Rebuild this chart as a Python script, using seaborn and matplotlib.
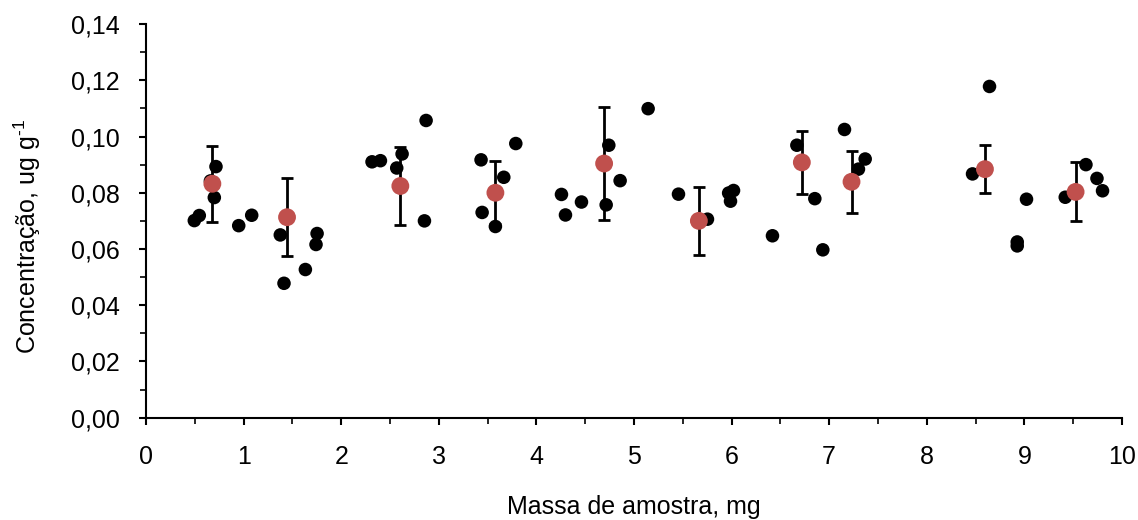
import matplotlib
matplotlib.use("Agg")
import matplotlib.pyplot as plt
from matplotlib.ticker import FuncFormatter, MultipleLocator
import seaborn as sns
import pandas as pd

# individual samples
sample_mass = [0.495, 0.546, 0.66, 0.700, 0.717, 0.950, 1.083, 1.376, 1.414, 1.633,
               1.742, 1.753, 2.316, 2.402, 2.569, 2.624, 2.853, 2.870, 3.433, 3.444,
               3.580, 3.666, 3.789, 4.257, 4.298, 4.462, 4.715, 4.742, 4.858, 5.145,
               5.456, 5.753, 5.970, 5.989, 6.020, 6.419, 6.669, 6.853, 6.935, 7.157,
               7.300, 7.369, 8.469, 8.643, 8.927, 8.927, 9.022, 9.419, 9.631, 9.744,
               9.801]
sample_conc = [0.0701, 0.0719, 0.0842, 0.0783, 0.0893, 0.0683, 0.0720, 0.0650, 0.0478, 0.0527,
               0.0616, 0.0655, 0.0910, 0.0914, 0.0888, 0.0938, 0.0700, 0.1057, 0.0917, 0.0730,
               0.0680, 0.0855, 0.0975, 0.0794, 0.0721, 0.0767, 0.0757, 0.0969, 0.0843, 0.1099,
               0.0795, 0.0706, 0.0799, 0.0770, 0.0808, 0.0647, 0.0969, 0.0779, 0.0597, 0.1025,
               0.0884, 0.0920, 0.0867, 0.1178, 0.0625, 0.0611, 0.0777, 0.0784, 0.0900, 0.0851,
               0.0807]

# group means with standard deviation
mean_mass = [0.680, 1.445, 2.606, 3.580, 4.694, 5.665, 6.720, 7.229, 8.596, 9.525]
mean_conc = [0.0832, 0.0713, 0.0824, 0.0800, 0.0904, 0.0700, 0.0908, 0.0839, 0.0884, 0.0803]
mean_sd = [0.0135, 0.0138, 0.0138, 0.0112, 0.0200, 0.0122, 0.0112, 0.0110, 0.0085, 0.0105]

x_ticks = list(range(0, 11))
y_ticks = [0.00, 0.02, 0.04, 0.06, 0.08, 0.10, 0.12, 0.14]

sns.set_theme(style="white")
plt.rcParams["font.family"] = ["Liberation Sans", "DejaVu Sans"]
plt.rcParams["mathtext.fontset"] = "custom"
plt.rcParams["mathtext.rm"] = "Liberation Sans"
plt.rcParams["mathtext.it"] = "Liberation Sans"

samples = pd.DataFrame({"mass": sample_mass, "conc": sample_conc})
means = pd.DataFrame({"mass": mean_mass, "conc": mean_conc, "sd": mean_sd})

FS = 18

fig = plt.figure(figsize=(11.38, 5.20), dpi=100)
ax = fig.add_axes([0.1283, 0.1967, 0.8576, 0.7571])

ax.errorbar(means["mass"], means["conc"], yerr=means["sd"], fmt="none",
            ecolor="black", elinewidth=2, capsize=4.5, capthick=2, zorder=2)
sns.scatterplot(data=samples, x="mass", y="conc", ax=ax, color="black",
                s=95, edgecolor="none", zorder=3)
sns.scatterplot(data=means, x="mass", y="conc", ax=ax, color="#C0504D",
                s=165, edgecolor="none", zorder=4)

ax.set_xlim(0, 10)
ax.set_ylim(0, 0.14)
ax.set_xticks(x_ticks)
ax.set_yticks(y_ticks)
ax.xaxis.set_minor_locator(MultipleLocator(0.5))
ax.yaxis.set_minor_locator(MultipleLocator(0.01))
ax.yaxis.set_major_formatter(FuncFormatter(lambda v, p: f"{v:.2f}".replace(".", ",")))
ax.xaxis.set_major_formatter(FuncFormatter(lambda v, p: f"{int(round(v))}"))

for s in ["top", "right"]:
    ax.spines[s].set_visible(False)
for s in ["left", "bottom"]:
    ax.spines[s].set_color("black")
    ax.spines[s].set_linewidth(1.5)

ax.tick_params(axis="both", which="major", direction="out", length=5, width=1.5,
               color="black", labelsize=FS, labelcolor="black", bottom=True, left=True)
ax.tick_params(axis="both", which="minor", direction="out", length=4, width=1.2,
               color="black", bottom=True, left=True)
ax.tick_params(axis="x", which="major", pad=15)
ax.tick_params(axis="y", which="major", pad=14)

ax.set_xlabel("Massa de amostra, mg", fontsize=FS, color="black")
ax.set_ylabel("Concentração, ug g$^{\\text{-}1}$", fontsize=FS, color="black")
ax.xaxis.set_label_coords(0.5, -0.197)
ax.yaxis.set_label_coords(-0.106, 0.46)

fig.savefig("out.png", dpi=100)
